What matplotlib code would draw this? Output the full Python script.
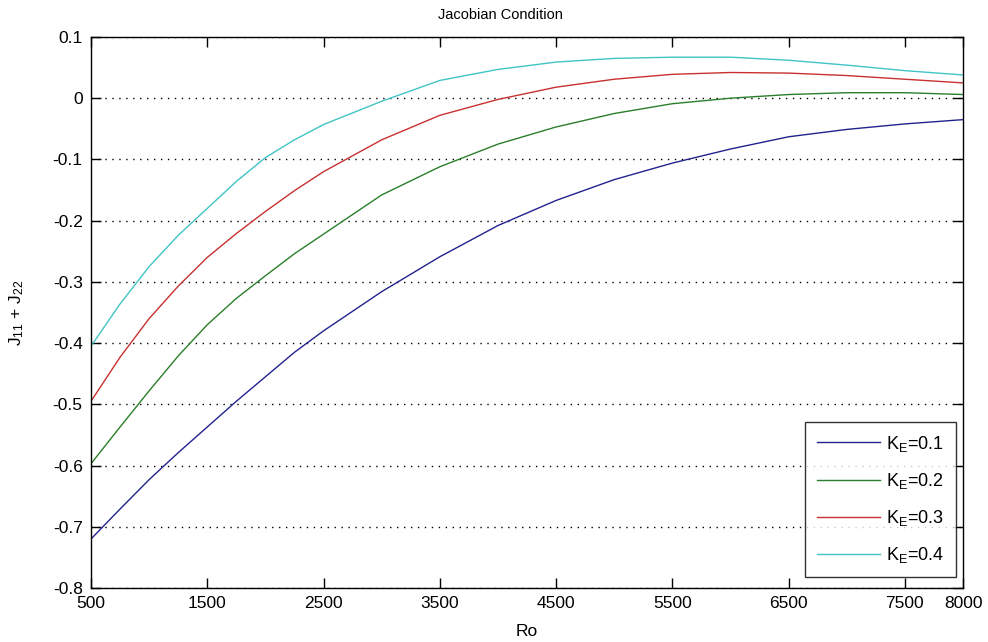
import matplotlib
matplotlib.use("Agg")
import matplotlib.pyplot as plt

plt.rcParams['font.family'] = ['Liberation Sans', 'DejaVu Sans']
plt.rcParams['mathtext.fontset'] = 'custom'
plt.rcParams['mathtext.rm'] = 'Liberation Sans'
plt.rcParams['mathtext.it'] = 'Liberation Sans'

# Ro values and J11 + J22 for each K_E
ro = [500, 750, 1000, 1250, 1500, 1750, 2000, 2250, 2500, 3000, 3500, 4000, 4500,
      5000, 5500, 6000, 6500, 7000, 7500, 8000]
ke_01 = [-0.720, -0.671, -0.623, -0.579, -0.537, -0.495, -0.455, -0.415, -0.380,
         -0.316, -0.259, -0.208, -0.167, -0.133, -0.106, -0.083, -0.063, -0.051,
         -0.042, -0.035]
ke_02 = [-0.597, -0.537, -0.478, -0.421, -0.370, -0.327, -0.290, -0.254, -0.222,
         -0.158, -0.112, -0.075, -0.047, -0.025, -0.009, 0.000, 0.006, 0.009,
         0.009, 0.006]
ke_03 = [-0.495, -0.423, -0.360, -0.307, -0.260, -0.221, -0.185, -0.151, -0.120,
         -0.068, -0.028, -0.002, 0.018, 0.031, 0.039, 0.042, 0.041, 0.037,
         0.031, 0.025]
ke_04 = [-0.405, -0.336, -0.275, -0.224, -0.180, -0.136, -0.097, -0.068, -0.043,
         -0.005, 0.029, 0.047, 0.059, 0.065, 0.067, 0.067, 0.062, 0.054,
         0.045, 0.038]

series = [ke_01, ke_02, ke_03, ke_04]
labels = ['K$_\\mathregular{E}$=0.1', 'K$_\\mathregular{E}$=0.2',
          'K$_\\mathregular{E}$=0.3', 'K$_\\mathregular{E}$=0.4']
colors = ['#22228f', '#2a7f2a', '#c83030', '#40c4c4']

xticks = [500, 1500, 2500, 3500, 4500, 5500, 6500, 7500, 8000]
yticks = [-0.8, -0.7, -0.6, -0.5, -0.4, -0.3, -0.2, -0.1, 0, 0.1]
ytick_labels = ['-0.8', '-0.7', '-0.6', '-0.5', '-0.4', '-0.3', '-0.2', '-0.1', '0', '0.1']

fig = plt.figure(figsize=(9.88, 6.42), dpi=100)
ax = fig.add_axes([0.0921, 0.0841, 0.8826, 0.8583])

for vals, lab, col in zip(series, labels, colors):
    ax.plot(ro, vals, color=col, lw=1.0, label=lab)

ax.set_xlim(500, 8000)
ax.set_ylim(-0.8, 0.1)
ax.set_xticks(xticks)
ax.set_xticklabels([str(t) for t in xticks])
ax.set_yticks(yticks)
ax.set_yticklabels(ytick_labels)
ax.tick_params(direction='in', top=True, right=True, length=7, width=1,
               labelsize=12.5)
ax.tick_params(axis='x', pad=6)
ax.tick_params(axis='y', pad=6)
for s in ax.spines.values():
    s.set_linewidth(1.0)

ax.yaxis.grid(True, linestyle=(0, (1, 4)), color='black', lw=1.0)
ax.xaxis.grid(False)

ax.set_title('Jacobian Condition', fontsize=10.5, pad=13, x=0.47)
ax.set_xlabel('Ro', fontsize=12.5)
ax.xaxis.set_label_coords(0.5, -0.066)
ax.set_ylabel('J$_\\mathregular{11}$ + J$_\\mathregular{22}$', fontsize=12.5)
ax.yaxis.set_label_coords(-0.074, 0.5)

leg = ax.legend(loc='lower right', bbox_to_anchor=(0.992, 0.020), borderaxespad=0,
                fontsize=13, frameon=True, fancybox=False, edgecolor='black',
                handlelength=3.5, handletextpad=0.35, labelspacing=0.95,
                borderpad=0.65)
leg.get_frame().set_linewidth(1.0)

fig.savefig('out.png', dpi=100, facecolor='white')
